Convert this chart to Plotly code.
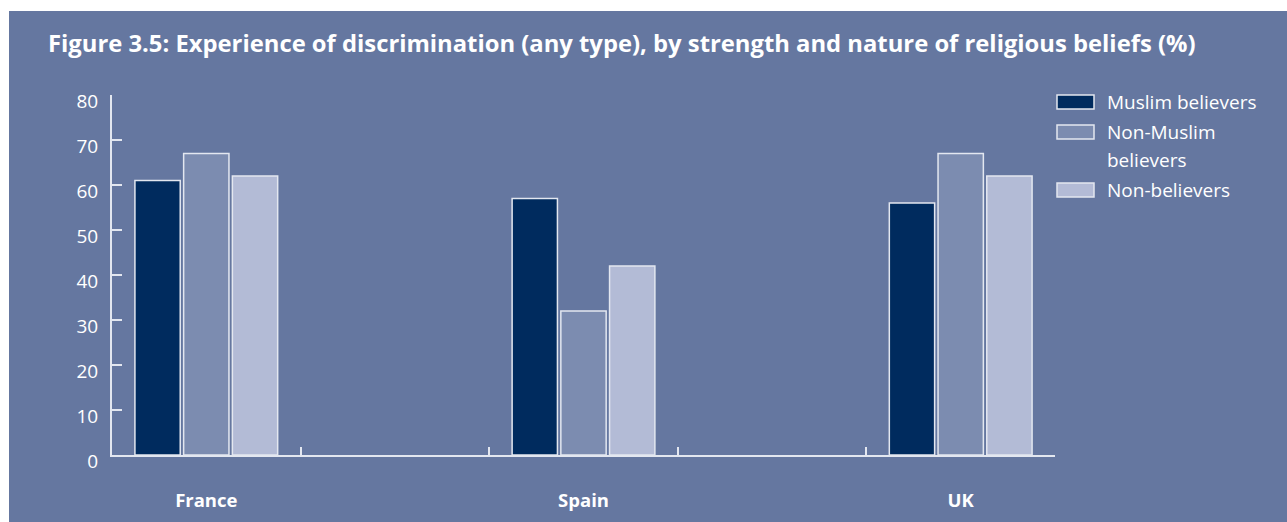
import plotly.graph_objects as go

# ---- data ----
categories = ["France", " ", "Spain", "  ", "UK"]
countries = ["France", "Spain", "UK"]
series_names = ["Muslim believers", "Non-Muslim believers", "Non-believers"]
legend_labels = ["Muslim believers", "Non-Muslim<br>believers", "Non-believers"]
muslim_believers = [61, 57, 56]
non_muslim_believers = [67, 32, 67]
non_believers = [62, 42, 62]
y_ticks = [0, 10, 20, 30, 40, 50, 60, 70, 80]

colors = ["#002b5e", "#7c8cb0", "#b3bbd6"]
BG = "#6577a0"
LINE = "#e3e7f0"
FONT = "Open Sans"

# plot area in pixels
L, R, T, B = 112, 1055, 95, 455
W, H = R - L, B - T
def px_x(p):
    return (p - L) / W
def px_y(p):
    return (B - p) / H

fig = go.Figure()
for name, vals, col in zip(series_names, [muslim_believers, non_muslim_believers, non_believers], colors):
    fig.add_trace(go.Bar(
        x=countries, y=vals, name=name,
        marker=dict(color=col, line=dict(color=LINE, width=1.5)),
        showlegend=False,
    ))

shapes = [dict(type="rect", xref="paper", yref="paper", layer="below",
               x0=px_x(9), x1=px_x(1300), y0=px_y(11), y1=px_y(530),
               fillcolor=BG, line=dict(width=0))]
annotations = [dict(text="<b>Figure 3.5: Experience of discrimination (any type), by strength and nature of religious beliefs (%)</b>",
                    xref="paper", yref="paper", x=px_x(46), y=px_y(43), xanchor="left", yanchor="middle",
                    showarrow=False, font=dict(family=FONT, size=23.8, color="white"))]

# custom legend
row_y = [102, 132, 190]
for lab, col, ry in zip(legend_labels, colors, row_y):
    shapes.append(dict(type="rect", xref="paper", yref="paper",
                       x0=px_x(1057), x1=px_x(1094), y0=px_y(ry - 7), y1=px_y(ry + 7),
                       fillcolor=col, line=dict(color=LINE, width=1.5)))
    for i, part in enumerate(lab.split("<br>")):
        annotations.append(dict(text=part, xref="paper", yref="paper",
                                x=px_x(1105), y=px_y(ry + i * 28), xanchor="left", yanchor="middle",
                                showarrow=False, font=dict(family=FONT, size=19, color="white")))

fig.update_layout(
    width=1287, height=522,
    margin=dict(l=L, r=1287 - R, t=T, b=522 - B, autoexpand=False),
    paper_bgcolor="white", plot_bgcolor="rgba(0,0,0,0)",
    barmode="group", bargap=0.225, bargroupgap=0.07,
    shapes=shapes, annotations=annotations,
    font=dict(family=FONT, color="white"),
    xaxis=dict(type="category", categoryorder="array", categoryarray=categories,
               range=[-0.5, 4.5], tickson="boundaries", ticks="inside", ticklen=8,
               tickcolor=LINE, tickwidth=1.5, showline=True, linecolor=LINE, linewidth=2,
               showgrid=False, tickvals=categories, automargin=False,
               ticktext=["<b>France</b>", " ", "<b>Spain</b>", " ", "<b>UK</b>"],
               tickfont=dict(family=FONT, size=18.5, color="white"), ticklabelstandoff=28),
    yaxis=dict(range=[0, 80], tickvals=y_ticks, ticks="inside", ticklen=10,
               tickcolor=LINE, tickwidth=1.5, showline=True, linecolor=LINE, linewidth=2,
               showgrid=False, zeroline=False, automargin=False,
               tickfont=dict(family=FONT, size=19, color="white"),
               ticklabelstandoff=8, ticklabelshift=6),
)

fig.write_html("out.html", config={"displayModeBar": False},
               post_script="document.body.style.margin='0';")
